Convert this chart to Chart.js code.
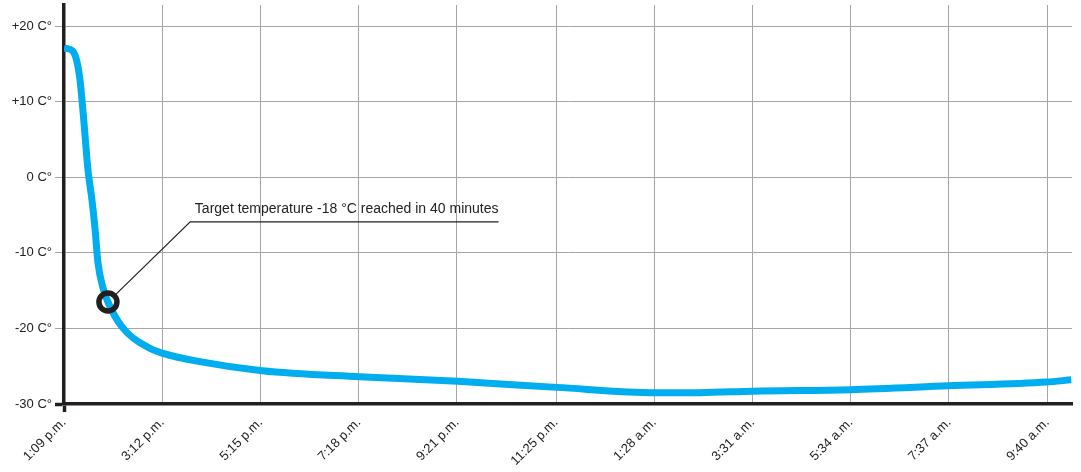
<!DOCTYPE html>
<html lang="en">
<head>
  <meta charset="UTF-8">
  <title>Temperature curve</title>
  <script src="https://cdn.jsdelivr.net/npm/chart.js"></script>
  <style>
    html, body { margin: 0; padding: 0; background: #fff; }
    #wrap { width: 1081px; height: 472px; }
  </style>
</head>
<body>
  <div id="wrap"><canvas id="temp-chart" width="1081" height="472"></canvas></div>

<script>
  // x axis: minutes since 1:09 p.m.
  const tickMinutes = [0, 123, 246, 369, 492, 616, 739, 862, 985, 1108, 1231];
  const tickLabels = ['1:09 p.m.', '3:12 p.m.', '5:15 p.m.', '7:18 p.m.', '9:21 p.m.', '11:25 p.m.',
                      '1:28 a.m.', '3:31 a.m.', '5:34 a.m.', '7:37 a.m.', '9:40 a.m.'];
  const tempTicks = [-30, -20, -10, 0, 10, 20];

  // curve
  const minutes = [0, 10, 15, 20, 24, 30, 35, 39, 42.5, 49, 55, 72.6, 105, 124, 170, 248, 370, 493, 617, 741, 796, 862, 985, 1107, 1230, 1261];
  const temps = [17.1, 16.8, 15.8, 12.9, 8.5, 1.0, -3.0, -7.0, -11.3, -14.7, -16.5, -19.8, -22.5, -23.3, -24.4, -25.6, -26.4, -27.0, -27.8, -28.5, -28.5, -28.3, -28.1, -27.6, -27.1, -26.8];

  // callout
  const targetPoint = { x: 55, y: -16.5 };
  const calloutElbow = { x: 158, y: -5.9 };
  const calloutEndX = 544;
  const calloutText = 'Target temperature -18 °C reached in 40 minutes';

  const fontName = '"Liberation Sans", Arial, sans-serif';
  const axisBlack = '#231f20';
  const gridGrey = '#a6a6a6';

  // 吹き出しの線と文字を描く
  const calloutPlugin = {
    id: 'callout',
    afterDatasetsDraw(chart) {
      const ctx = chart.ctx;
      const xs = chart.scales.x, ys = chart.scales.y;
      const cx = xs.getPixelForValue(targetPoint.x), cy = ys.getPixelForValue(targetPoint.y);
      const ex = xs.getPixelForValue(calloutElbow.x), ey = ys.getPixelForValue(calloutElbow.y);
      const endX = xs.getPixelForValue(calloutEndX);
      const dx = ex - cx, dy = ey - cy;
      const len = Math.sqrt(dx * dx + dy * dy);
      ctx.save();
      ctx.strokeStyle = axisBlack;
      ctx.lineWidth = 1.2;
      ctx.beginPath();
      ctx.moveTo(cx + dx / len * 11, cy + dy / len * 11);
      ctx.lineTo(ex, ey);
      ctx.lineTo(endX, ey);
      ctx.stroke();
      ctx.fillStyle = '#222';
      ctx.font = '14px ' + fontName;
      ctx.textAlign = 'right';
      ctx.textBaseline = 'alphabetic';
      ctx.fillText(calloutText, endX, ey - 9);
      ctx.restore();
    }
  };

  const ctx = document.getElementById('temp-chart').getContext('2d');
  new Chart(ctx, {
    type: 'line',
    data: {
      datasets: [{
        data: minutes.map((m, i) => ({ x: m, y: temps[i] })),
        borderColor: '#00aeef',
        borderWidth: 7,
        pointRadius: 0,
        cubicInterpolationMode: 'monotone',
        fill: false,
        order: 2
      }, {
        type: 'scatter',
        data: [targetPoint],
        pointRadius: 9,
        pointBorderWidth: 5.5,
        pointBorderColor: axisBlack,
        pointBackgroundColor: 'rgba(0,0,0,0)',
        order: 1
      }]
    },
    options: {
      responsive: false,
      animation: false,
      layout: { autoPadding: false, padding: { top: 5, right: 9, left: 0, bottom: 0 } },
      plugins: { legend: { display: false }, tooltip: { enabled: false } },
      scales: {
        x: {
          type: 'linear',
          min: 0,
          max: 1262,
          afterBuildTicks: (scale) => { scale.ticks = tickMinutes.map(v => ({ value: v })); },
          afterFit: (scale) => { scale.height = 68; },
          border: { display: true, color: axisBlack, width: 3.5 },
          grid: {
            color: gridGrey,
            lineWidth: 1,
            tickLength: 8,
            tickColor: (c) => c.index === 0 ? axisBlack : 'rgba(0,0,0,0)',
            tickWidth: (c) => c.index === 0 ? 3.5 : 1
          },
          ticks: {
            autoSkip: false,
            minRotation: 45,
            maxRotation: 45,
            padding: 3,
            color: '#222',
            font: { family: fontName, size: 13 },
            callback: (v) => tickLabels[tickMinutes.indexOf(v)]
          }
        },
        y: {
          min: -30,
          max: 22.8,
          afterBuildTicks: (scale) => { scale.ticks = tempTicks.map(v => ({ value: v })); },
          afterFit: (scale) => { scale.width = 64; },
          border: { display: true, color: axisBlack, width: 3.5 },
          grid: {
            color: gridGrey,
            lineWidth: 1,
            tickLength: 9,
            tickColor: (c) => c.tick && c.tick.value === -30 ? axisBlack : gridGrey,
            tickWidth: (c) => c.tick && c.tick.value === -30 ? 3.5 : 1
          },
          ticks: {
            padding: 3,
            color: '#222',
            // small lineHeight keeps the top label from padding the chart area
            font: { family: fontName, size: 13, lineHeight: 0.1 },
            callback: (v) => (v > 0 ? '+' : '') + v + ' C°'
          }
        }
      }
    },
    plugins: [calloutPlugin]
  });
</script>
</body>
</html>
